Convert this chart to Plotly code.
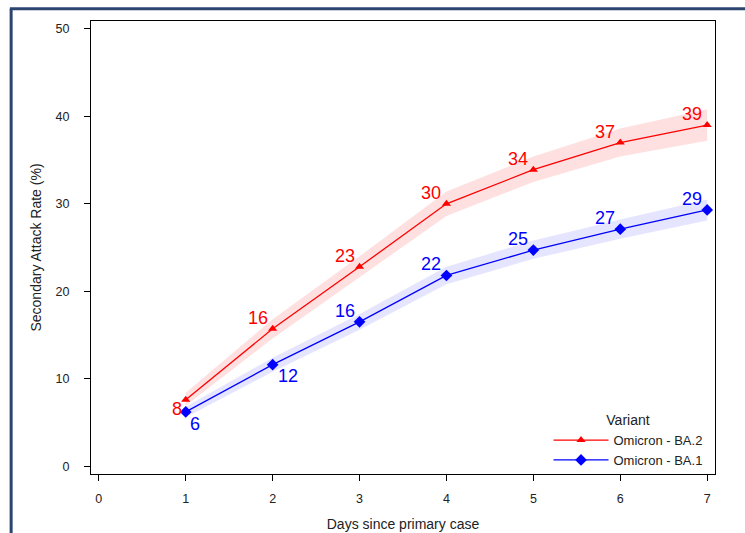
import plotly.graph_objects as go

days = [1, 2, 3, 4, 5, 6, 7]
ba2 = [7.6, 15.7, 22.8, 30.0, 33.9, 37.0, 39.0]
ba2_lo = [6.9, 14.6, 21.6, 28.6, 32.5, 35.4, 37.2]
ba2_hi = [8.4, 16.8, 24.0, 31.4, 35.4, 38.6, 40.8]
ba2_lbl = ["8", "16", "23", "30", "34", "37", "39"]
ba1 = [6.2, 11.6, 16.5, 21.8, 24.7, 27.1, 29.3]
ba1_lo = [5.6, 10.8, 15.6, 20.8, 23.7, 26.0, 28.1]
ba1_hi = [6.8, 12.4, 17.4, 22.8, 25.8, 28.2, 30.5]
ba1_lbl = ["6", "12", "16", "22", "25", "27", "29"]
x_ticks = [0, 1, 2, 3, 4, 5, 6, 7]
y_ticks = [0, 10, 20, 30, 40, 50]

RED = "#ff0000"
BLUE = "#0000ff"
FONT = "Arial, Liberation Sans, sans-serif"

fig = go.Figure()
# bands
fig.add_trace(go.Scatter(x=days, y=ba2_lo, mode="lines", line=dict(width=0),
                         showlegend=False, hoverinfo="skip"))
fig.add_trace(go.Scatter(x=days, y=ba2_hi, mode="lines", line=dict(width=0),
                         fill="tonexty", fillcolor="rgba(255,0,0,0.12)",
                         showlegend=False, hoverinfo="skip"))
fig.add_trace(go.Scatter(x=days, y=ba1_lo, mode="lines", line=dict(width=0),
                         showlegend=False, hoverinfo="skip"))
fig.add_trace(go.Scatter(x=days, y=ba1_hi, mode="lines", line=dict(width=0),
                         fill="tonexty", fillcolor="rgba(0,0,255,0.10)",
                         showlegend=False, hoverinfo="skip"))
# lines
fig.add_trace(go.Scatter(x=days, y=ba2, mode="lines+markers", name="Omicron - BA.2",
                         line=dict(color=RED, width=1.3),
                         marker=dict(symbol="triangle-up", size=8, color=RED)))
fig.add_trace(go.Scatter(x=days, y=ba1, mode="lines+markers", name="Omicron - BA.1",
                         line=dict(color=BLUE, width=1.3),
                         marker=dict(symbol="diamond", size=9, color=BLUE)))

# value labels
for i, (d, v, t) in enumerate(zip(days, ba2, ba2_lbl)):
    if i == 0:
        xs, ys = -9, -9
    else:
        xs, ys = -15, 11
    fig.add_annotation(x=d, y=v, text=t, showarrow=False, xshift=xs, yshift=ys,
                       font=dict(family=FONT, size=18, color=RED))
for i, (d, v, t) in enumerate(zip(days, ba1, ba1_lbl)):
    if i == 0:
        xs, ys = 9, -12
    elif i == 1:
        xs, ys = 15, -11
    else:
        xs, ys = -15, 11
    fig.add_annotation(x=d, y=v, text=t, showarrow=False, xshift=xs, yshift=ys,
                       font=dict(family=FONT, size=18, color=BLUE))

# outer frame (page border)
border = "#2b4470"
fig.add_shape(type="line", xref="paper", yref="paper", x0=-0.128, x1=-0.128,
              y0=1.027, y1=-0.3, line=dict(color=border, width=3))
fig.add_shape(type="line", xref="paper", yref="paper", x0=-0.13, x1=1.1,
              y0=1.027, y1=1.027, line=dict(color=border, width=3))

fig.update_layout(
    width=745, height=533,
    margin=dict(l=91, r=30, t=21, b=59, autoexpand=False),
    paper_bgcolor="white", plot_bgcolor="white",
    font=dict(family=FONT, color="#222222"),
    legend=dict(
        title=dict(text="Variant", side="top center", font=dict(size=14, family=FONT)),
        x=0.988, xanchor="right", y=-0.002, yanchor="bottom",
        bgcolor="rgba(0,0,0,0)", font=dict(size=13, family=FONT),
        itemwidth=55, tracegroupgap=0, traceorder="normal",
    ),
    xaxis=dict(range=[-0.09, 7.09], tickvals=x_ticks, ticks="outside", ticklen=6,
               tickcolor="black", showline=True, linecolor="black", linewidth=1,
               mirror=True, showgrid=False, zeroline=False, automargin=False,
               tickfont=dict(size=12.5), ticklabelstandoff=7,
               title=dict(text="Days since primary case", font=dict(size=14), standoff=14)),
    yaxis=dict(range=[-0.9, 50.9], tickvals=y_ticks, ticks="outside", ticklen=6,
               tickcolor="black", showline=True, linecolor="black", linewidth=1,
               mirror=True, showgrid=False, zeroline=False, automargin=False,
               tickfont=dict(size=12.5), ticklabelstandoff=12,
               title=dict(text="Secondary Attack Rate (%)", font=dict(size=14), standoff=10)),
)

fig.write_html("out.html")
